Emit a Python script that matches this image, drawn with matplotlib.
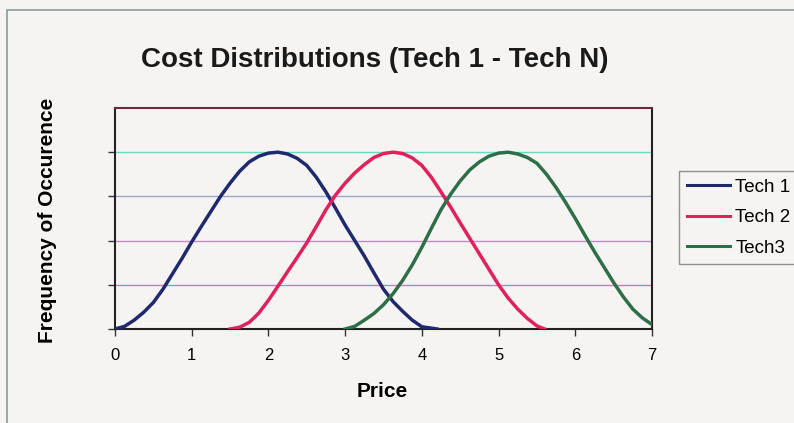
import matplotlib.pyplot as plt
from matplotlib.patches import Rectangle

# values
tech1_x = [0, 0.125, 0.25, 0.375, 0.5, 0.625, 0.75, 0.875, 1.0, 1.125, 1.25, 1.375, 1.5, 1.625, 1.75, 1.875,
           2.0, 2.125, 2.25, 2.375, 2.5, 2.625, 2.75, 2.875, 3.0, 3.125, 3.25, 3.375, 3.5, 3.625, 3.75, 3.875,
           4.0, 4.2]
tech1_y = [0, 0.06, 0.2, 0.38, 0.6, 0.9, 1.25, 1.6, 1.97, 2.32, 2.66, 3.0, 3.3, 3.57, 3.78, 3.91,
           3.98, 4.0, 3.96, 3.86, 3.7, 3.43, 3.1, 2.73, 2.35, 2.0, 1.65, 1.27, 0.9, 0.62, 0.4, 0.2,
           0.05, 0]

tech2_x = [1.5, 1.625, 1.75, 1.875, 2.0, 2.125, 2.25, 2.375, 2.5, 2.625, 2.75, 2.875, 3.0, 3.125, 3.25, 3.375,
           3.5, 3.625, 3.75, 3.875, 4.0, 4.125, 4.25, 4.375, 4.5, 4.625, 4.75, 4.875, 5.0, 5.125, 5.25, 5.375,
           5.5, 5.6]
tech2_y = [0, 0.04, 0.15, 0.36, 0.65, 0.97, 1.3, 1.62, 1.95, 2.32, 2.7, 3.03, 3.3, 3.53, 3.72, 3.88,
           3.97, 4.0, 3.97, 3.87, 3.7, 3.43, 3.1, 2.76, 2.4, 2.05, 1.7, 1.35, 1.0, 0.7, 0.45, 0.24,
           0.07, 0]

tech3_x = [3.0, 3.125, 3.25, 3.375, 3.5, 3.625, 3.75, 3.875, 4.0, 4.125, 4.25, 4.375, 4.5, 4.625, 4.75, 4.875,
           5.0, 5.125, 5.25, 5.375, 5.5, 5.625, 5.75, 5.875, 6.0, 6.125, 6.25, 6.375, 6.5, 6.625, 6.75, 6.875,
           7.0]
tech3_y = [0, 0.06, 0.2, 0.35, 0.55, 0.8, 1.1, 1.45, 1.85, 2.28, 2.7, 3.05, 3.35, 3.6, 3.78, 3.91,
           3.98, 4.0, 3.96, 3.88, 3.75, 3.5, 3.2, 2.86, 2.5, 2.12, 1.75, 1.4, 1.05, 0.73, 0.45, 0.25,
           0.1]

x_ticks = [0, 1, 2, 3, 4, 5, 6, 7]
y_grid = [1, 2, 3, 4]
grid_colors = ['#d478b8', '#c68ac8', '#9aa8c8', '#6cd8c4']

bg = '#f6f4f3'
plt.rcParams['font.family'] = 'Liberation Sans'

fig = plt.figure(figsize=(7.94, 4.23), dpi=100, facecolor=bg)
ax = fig.add_axes([115 / 794, 1 - 329 / 423, 537 / 794, 221 / 423], facecolor=bg)

# outer chart frame
fig.patches.append(Rectangle((7 / 794, -0.1), 1.2, 1 - 10 / 423 + 0.1, transform=fig.transFigure,
                             fill=False, edgecolor='#8a9a98', linewidth=1.2))

for yv, c in zip(y_grid, grid_colors):
    ax.axhline(yv, color=c, linewidth=1.0, zorder=1)

ax.plot(tech1_x, tech1_y, color='#1f2a6e', linewidth=2.5, label='Tech 1', zorder=3)
ax.plot(tech2_x, tech2_y, color='#e2205c', linewidth=2.5, label='Tech 2', zorder=3)
ax.plot(tech3_x, tech3_y, color='#2e6f48', linewidth=2.5, label='Tech3', zorder=3)

ax.set_xlim(0, 7)
ax.set_ylim(0, 5)
ax.set_xticks(x_ticks)
ax.set_xticklabels([str(v) for v in x_ticks], fontsize=12)
ax.set_yticks([0] + y_grid)
ax.set_yticklabels([])
ax.tick_params(axis='both', direction='out', length=5, width=1, color='#333333', pad=9)
for s in ax.spines.values():
    s.set_color('#222222')
    s.set_linewidth(1.5)
ax.spines['top'].set_color('#6a2a3a')

fig.text(382 / 794, 1 - 391 / 423, 'Price', ha='center', va='center', fontsize=15, fontweight='bold')
fig.text(48 / 794, 1 - 220 / 423, 'Frequency of Occurence', rotation=90, ha='center', va='center',
         fontsize=15, fontweight='bold')
fig.text(375 / 794, 1 - 60 / 423, 'Cost Distributions (Tech 1 - Tech N)', ha='center', va='center',
         fontsize=20, fontweight='bold', color='#1a1a1a')

leg = fig.legend(loc='upper left', bbox_to_anchor=(679 / 794, 1 - 171 / 423), fontsize=13.5,
                 frameon=True, fancybox=False, edgecolor='#777777', facecolor=bg,
                 handlelength=2.3, handletextpad=0.3, borderpad=0.4, labelspacing=0.72,
                 borderaxespad=0)
leg.get_frame().set_linewidth(1.0)
for h in leg.get_lines():
    h.set_linewidth(2.2)

fig.savefig('out.png', dpi=100, facecolor=bg)
